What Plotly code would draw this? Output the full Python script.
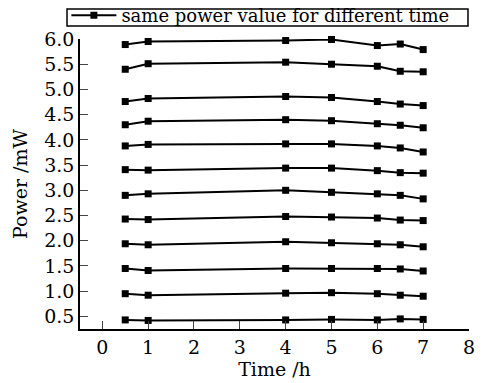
import plotly.graph_objects as go

time_h = [0.5, 1, 4, 5, 6, 6.5, 7]

s1 = [5.89, 5.95, 5.97, 5.99, 5.87, 5.90, 5.79]
s2 = [5.40, 5.51, 5.54, 5.50, 5.46, 5.36, 5.35]
s3 = [4.76, 4.82, 4.86, 4.84, 4.76, 4.71, 4.68]
s4 = [4.30, 4.37, 4.40, 4.38, 4.32, 4.29, 4.24]
s5 = [3.88, 3.91, 3.92, 3.92, 3.88, 3.84, 3.76]
s6 = [3.41, 3.40, 3.44, 3.44, 3.39, 3.35, 3.34]
s7 = [2.90, 2.93, 3.00, 2.96, 2.93, 2.90, 2.83]
s8 = [2.43, 2.42, 2.48, 2.47, 2.45, 2.41, 2.40]
s9 = [1.94, 1.92, 1.98, 1.96, 1.94, 1.92, 1.88]
s10 = [1.45, 1.41, 1.45, 1.45, 1.45, 1.44, 1.40]
s11 = [0.95, 0.92, 0.96, 0.97, 0.95, 0.92, 0.90]
s12 = [0.43, 0.42, 0.43, 0.44, 0.43, 0.45, 0.44]

series = [s1, s2, s3, s4, s5, s6, s7, s8, s9, s10, s11, s12]
legend_label = "same power value for different time"

y_ticks = [0.5, 1.0, 1.5, 2.0, 2.5, 3.0, 3.5, 4.0, 4.5, 5.0, 5.5, 6.0]
x_ticks = [0, 1, 2, 3, 4, 5, 6, 7, 8]

FONT = "DejaVu Serif"

fig = go.Figure()
for i, s in enumerate(series):
    fig.add_trace(go.Scatter(
        x=time_h, y=s, mode="lines+markers",
        line=dict(color="black", width=2),
        marker=dict(symbol="square", size=7, color="black"),
        name=legend_label, showlegend=(i == 0), cliponaxis=False,
    ))

fig.update_layout(
    width=484, height=383,
    margin=dict(l=80, r=15, t=39, b=54, autoexpand=False),
    paper_bgcolor="white", plot_bgcolor="white",
    font=dict(family=FONT, color="black", size=18),
    legend=dict(
        x=-0.035, y=1.081, xanchor="left", yanchor="middle",
        borderwidth=0, bgcolor="rgba(0,0,0,0)",
        font=dict(family=FONT, size=18, color="black"),
        tracegroupgap=0, itemwidth=45,
    ),
    shapes=[dict(
        type="rect", xref="paper", yref="paper",
        x0=-0.0334, x1=0.9974, y0=1.0448, y1=1.1034,
        line=dict(color="black", width=1.5), fillcolor="rgba(0,0,0,0)", layer="below",
    )],
)
fig.update_xaxes(
    range=[-0.487, 8], tickvals=x_ticks, ticktext=[str(v) for v in x_ticks],
    showgrid=False, zeroline=False, showline=True, linecolor="black", linewidth=1.5,
    ticks="inside", ticklen=8, tickcolor="#444", tickwidth=1,
    title=dict(text="Time /h", font=dict(family=FONT, size=19), standoff=4),
    tickfont=dict(family=FONT, size=19),
)
fig.update_yaxes(
    range=[0.25, 6.0], tickvals=y_ticks, ticktext=[f"{v:.1f}" for v in y_ticks],
    showgrid=False, zeroline=False, showline=True, linecolor="black", linewidth=1.5,
    ticks="inside", ticklen=8, tickcolor="#444", tickwidth=1,
    title=dict(text="Power /mW", font=dict(family=FONT, size=19), standoff=12),
    tickfont=dict(family=FONT, size=19),
)

fig.write_html("out.html", config={"displayModeBar": False},
               post_script="document.body.style.margin='0';")
